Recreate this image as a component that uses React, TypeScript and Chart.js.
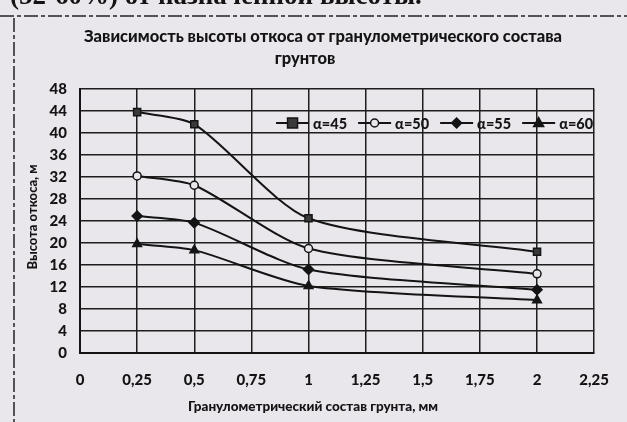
import React, { useEffect, useRef } from "react";
import { Chart, registerables } from "chart.js";

Chart.register(...registerables);

const xValues = [0.25, 0.5, 1, 2];
const alpha45 = [43.8, 41.6, 24.5, 18.4];
const alpha50 = [32.2, 30.5, 19.0, 14.4];
const alpha55 = [24.9, 23.7, 15.2, 11.5];
const alpha60 = [19.8, 18.7, 12.2, 9.6];
const seriesLabels = ["α=45", "α=50", "α=55", "α=60"];
const xTickLabels = ["0", "0,25", "0,5", "0,75", "1", "1,25", "1,5", "1,75", "2", "2,25"];
const chartTitle = ["Зависимость высоты откоса от гранулометрического состава", "грунтов"];
const xTitle = "Гранулометрический состав грунта, мм";
const yTitle = "Высота откоса, м";
const pageText = "(52-60%) от назначенной высоты.";

const BG = "#e9e6ec";
const INK = "#141414";
const FONT = "Lato, 'Liberation Sans', sans-serif";

function marker(ctx: CanvasRenderingContext2D, style: string, r: number, x: number, y: number, fill: string) {
  ctx.save();
  ctx.fillStyle = fill;
  ctx.strokeStyle = INK;
  ctx.lineWidth = 1.5;
  ctx.beginPath();
  if (style === "rect") {
    ctx.rect(x - r, y - r, 2 * r, 2 * r);
  } else if (style === "circle") {
    ctx.arc(x, y, r, 0, Math.PI * 2);
  } else if (style === "rectRot") {
    ctx.moveTo(x, y - r);
    ctx.lineTo(x + r, y);
    ctx.lineTo(x, y + r);
    ctx.lineTo(x - r, y);
    ctx.closePath();
  } else {
    ctx.moveTo(x, y - r * 1.1);
    ctx.lineTo(x + r, y + r * 0.7);
    ctx.lineTo(x - r, y + r * 0.7);
    ctx.closePath();
  }
  ctx.fill();
  ctx.stroke();
  ctx.restore();
}

export default function App() {
  const ref = useRef<HTMLCanvasElement | null>(null);
  useEffect(() => {
    if (!ref.current) return;
    const mk = (vals: number[]) => vals.map((y, i) => ({ x: xValues[i], y }));
    const styles = [
      { pointStyle: "rect", radius: 5, fill: "#3a3a3a" },
      { pointStyle: "circle", radius: 4, fill: BG },
      { pointStyle: "rectRot", radius: 5, fill: INK },
      { pointStyle: "triangle", radius: 5, fill: INK },
    ];
    const all = [alpha45, alpha50, alpha55, alpha60];
    const datasets = all.map((vals, i) => ({
      label: seriesLabels[i],
      data: mk(vals),
      borderColor: INK,
      borderWidth: 2,
      backgroundColor: styles[i].fill,
      pointStyle: styles[i].pointStyle as any,
      pointRadius: styles[i].radius,
      pointBorderColor: INK,
      pointBorderWidth: 1.5,
      pointBackgroundColor: styles[i].fill,
      tension: 0.25,
      fill: false,
    }));

    const decor = {
      id: "decor",
      beforeDraw(chart: any) {
        const ctx = chart.ctx;
        ctx.save();
        ctx.fillStyle = BG;
        ctx.fillRect(0, 0, chart.width, chart.height);
        ctx.strokeStyle = "#222";
        ctx.lineWidth = 1.5;
        ctx.setLineDash([14, 3, 4, 3]);
        ctx.beginPath();
        ctx.moveTo(0, 16);
        ctx.lineTo(chart.width, 16);
        ctx.stroke();
        ctx.beginPath();
        ctx.moveTo(14, 18);
        ctx.lineTo(14, chart.height);
        ctx.stroke();
        ctx.restore();
      },
      afterDraw(chart: any) {
        const ctx = chart.ctx;
        const area = chart.chartArea;
        ctx.save();
        ctx.fillStyle = INK;
        ctx.textAlign = "center";
        ctx.textBaseline = "middle";
        ctx.font = `900 16.5px ${FONT}`;
        ctx.fillText(chartTitle[0], 323, 37);
        ctx.fillText(chartTitle[1], 305, 59);
        ctx.font = `900 13.5px ${FONT}`;
        ctx.fillText(xTitle, 313, 407);
        ctx.save();
        ctx.translate(33, 217);
        ctx.rotate(-Math.PI / 2);
        ctx.font = `900 13px ${FONT}`;
        ctx.fillText(yTitle, 0, 0);
        ctx.restore();

        ctx.font = `900 14.5px ${FONT}`;
        ctx.textAlign = "left";
        const lineLen = 33;
        const gap = 4;
        const itemGap = 11;
        const widths = seriesLabels.map((l) => ctx.measureText(l).width);
        const total = widths.reduce((a, w) => a + lineLen + gap + w, 0) + itemGap * (seriesLabels.length - 1);
        let x = area.right - 1 - total;
        const y = area.top + 34;
        chart.data.datasets.forEach((ds: any, i: number) => {
          ctx.strokeStyle = INK;
          ctx.lineWidth = 2;
          ctx.beginPath();
          ctx.moveTo(x, y);
          ctx.lineTo(x + lineLen, y);
          ctx.stroke();
          marker(ctx, ds.pointStyle, ds.pointRadius, x + lineLen / 2, y, ds.pointBackgroundColor);
          ctx.fillStyle = INK;
          ctx.fillText(seriesLabels[i], x + lineLen + gap, y + 1);
          x += lineLen + gap + widths[i] + itemGap;
        });
        ctx.restore();
      },
    };

    const chart = new Chart(ref.current, {
      type: "line",
      data: { datasets: datasets as any },
      options: {
        animation: false,
        responsive: false,
        layout: { padding: { left: 0, top: 89, right: 32, bottom: 0 } },
        plugins: { legend: { display: false }, title: { display: false }, tooltip: { enabled: false } },
        scales: {
          x: {
            type: "linear",
            min: 0,
            max: 2.25,
            afterFit: (s: any) => { s.height = 69; },
            afterBuildTicks: (s: any) => {
              s.ticks = xTickLabels.map((_, i) => ({ value: i * 0.25 }));
            },
            ticks: {
              autoSkip: false,
              maxRotation: 0,
              padding: 18,
              color: INK,
              font: { family: FONT, size: 15, weight: "900" },
              callback: (_v: any, i: number) => xTickLabels[i],
            },
            grid: { color: "#1e1e1e", lineWidth: 1.5, drawTicks: false },
            border: { color: INK, width: 2 },
          },
          y: {
            min: 0,
            max: 48,
            afterFit: (s: any) => { s.width = 80; },
            ticks: {
              stepSize: 4,
              padding: 13,
              color: INK,
              font: { family: FONT, size: 15, weight: "900" },
            },
            grid: { color: "#1e1e1e", lineWidth: 1.5, drawTicks: false },
            border: { color: INK, width: 2 },
          },
        },
      },
      plugins: [decor],
    });
    return () => chart.destroy();
  }, []);

  return (
    <div style={{ position: "fixed", left: 0, top: 0, width: 627, height: 422, overflow: "hidden", background: BG }}>
      <canvas ref={ref} width={627} height={422} style={{ position: "absolute", left: 0, top: 0 }} />
      <div
        style={{
          position: "absolute",
          left: 10,
          top: -20,
          fontFamily: "'Liberation Serif', serif",
          fontWeight: "bold",
          fontSize: 27,
          color: INK,
          whiteSpace: "nowrap",
          lineHeight: "30px",
        }}
      >
        {pageText}
      </div>
    </div>
  );
}
